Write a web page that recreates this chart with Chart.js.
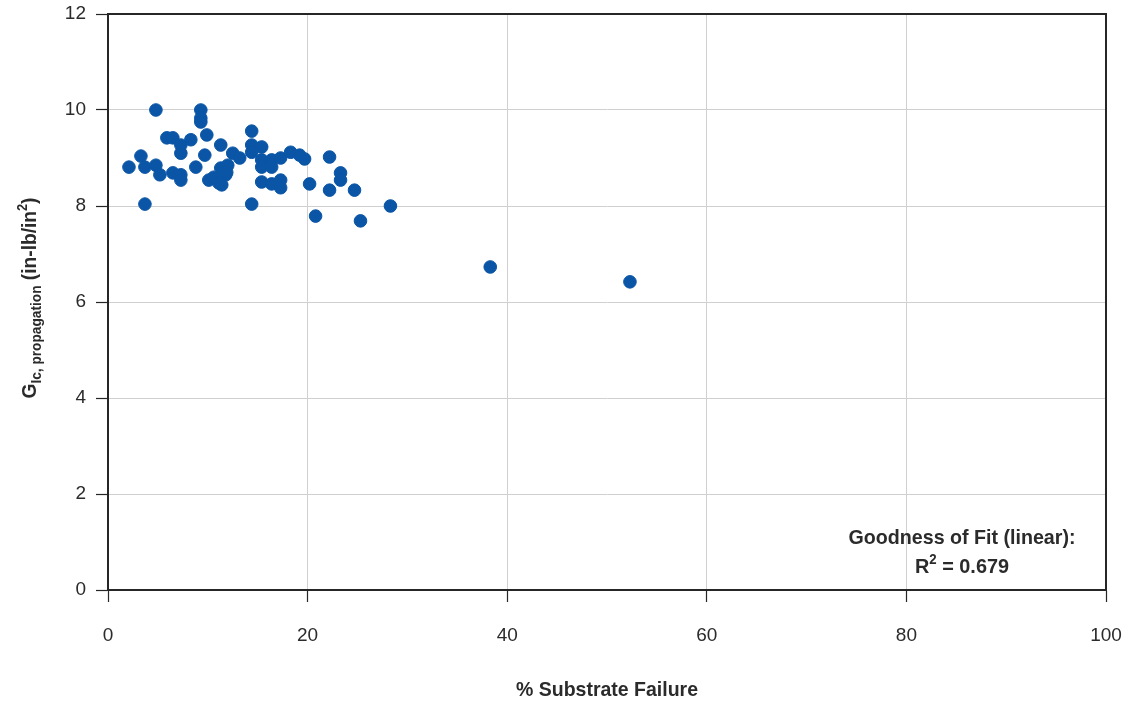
<!DOCTYPE html>
<html>
<head>
<meta charset="utf-8">
<script src="https://cdn.jsdelivr.net/npm/chart.js@4.4.1/dist/chart.umd.min.js"></script>
<style>
  html, body { margin: 0; padding: 0; background: #fff; }
  #wrap { width: 1130px; height: 702px; position: relative; }
</style>
</head>
<body>
<div id="wrap"><canvas id="chart"></canvas></div>
<script>
// % substrate failure vs GIc propagation (in-lb/in^2)
const substrateFailure = [
  2.1, 3.3, 3.7, 3.7, 4.8, 4.8, 5.2, 5.9, 6.5, 6.5,
  7.3, 7.3, 7.3, 7.3, 8.3, 8.8, 9.3, 9.3, 9.3, 9.7,
  9.9, 10.1, 10.6, 11.1, 11.3, 11.3, 11.8, 12.0, 12.5, 13.2,
  14.4, 14.4, 14.4, 14.4, 15.4, 15.4, 15.4, 15.4, 16.4, 16.4,
  16.4, 17.3, 17.3, 17.3, 18.3, 19.2, 19.7, 20.2, 20.8, 22.2,
  22.2, 23.3, 23.3, 24.7, 25.3, 28.3, 38.3, 52.3, 11.4, 11.9
];
const gicPropagation = [
  8.81, 9.04, 8.81, 8.04, 10.0, 8.85, 8.65, 9.42, 9.42, 8.69,
  9.27, 9.10, 8.65, 8.54, 9.38, 8.81, 10.0, 9.83, 9.75, 9.06,
  9.48, 8.54, 8.60, 8.48, 9.27, 8.79, 8.65, 8.85, 9.10, 9.00,
  9.56, 9.27, 9.12, 8.04, 9.23, 8.96, 8.81, 8.50, 8.96, 8.81,
  8.46, 9.00, 8.54, 8.38, 9.12, 9.06, 8.98, 8.46, 7.79, 9.02,
  8.33, 8.69, 8.54, 8.33, 7.69, 8.00, 6.73, 6.42, 8.44, 8.70
];
const xTicks = [0, 20, 40, 60, 80, 100];
const yTicks = [0, 2, 4, 6, 8, 10, 12];
const fitLabel = "Goodness of Fit (linear):";
const rSquared = "0.679";

const points = substrateFailure.map((x, i) => ({ x, y: gicPropagation[i] }));

const FONT = "'Liberation Sans', Arial, sans-serif";
const INK = "#2b2b2b";
const FRAME = "#262626";

// draw a run of text pieces (with sub/superscripts), squeezed to a given width
function drawRun(ctx, parts, cx, baseY, width) {
  let total = 0;
  parts.forEach(p => { ctx.font = "bold " + p.size + "px " + FONT; p.w = ctx.measureText(p.t).width; total += p.w; });
  const k = width / total;
  ctx.save();
  ctx.translate(cx, baseY);
  ctx.scale(k, 1);
  ctx.textAlign = "left";
  let x = -total / 2;
  parts.forEach(p => {
    ctx.font = "bold " + p.size + "px " + FONT;
    ctx.fillText(p.t, x, p.dy || 0);
    x += p.w;
  });
  ctx.restore();
}

// frame, axis titles and fit note
const extras = {
  id: "extras",
  afterDraw(chart) {
    const { ctx, chartArea: a } = chart;
    ctx.save();
    ctx.strokeStyle = FRAME;
    ctx.lineWidth = 2;
    ctx.strokeRect(a.left, a.top, a.right - a.left, a.bottom - a.top);

    ctx.fillStyle = INK;
    ctx.textBaseline = "alphabetic";

    // x title
    drawRun(ctx, [{ t: "% Substrate Failure", size: 21 }], (a.left + a.right) / 2, 696, 182);

    // y title, rotated
    ctx.save();
    ctx.translate(36, 298);
    ctx.rotate(-Math.PI / 2);
    drawRun(ctx, [
      { t: "G", size: 21 },
      { t: "Ic, propagation", size: 15, dy: 5 },
      { t: " (in-lb/in", size: 21 },
      { t: "2", size: 14, dy: -9 },
      { t: ")", size: 21 }
    ], 0, 0, 201);
    ctx.restore();

    // fit note
    drawRun(ctx, [{ t: fitLabel, size: 21 }], 962, 544, 227);
    drawRun(ctx, [
      { t: "R", size: 21 },
      { t: "2", size: 14, dy: -9 },
      { t: " = " + rSquared, size: 21 }
    ], 962, 573, 94);
    ctx.restore();
  }
};

new Chart(document.getElementById("chart"), {
  type: "scatter",
  data: {
    datasets: [{
      data: points,
      backgroundColor: "#0a55a6",
      borderColor: "#0a55a6",
      pointRadius: 6.3,
      pointHoverRadius: 6.3
    }]
  },
  options: {
    responsive: true,
    maintainAspectRatio: false,
    animation: false,
    layout: { padding: { left: 0, right: 24, top: 14, bottom: 0 } },
    plugins: { legend: { display: false }, tooltip: { enabled: false } },
    scales: {
      x: {
        type: "linear",
        min: 0, max: 100,
        afterBuildTicks: s => { s.ticks = xTicks.map(v => ({ value: v })); },
        afterFit: s => { s.height = 112; s.paddingLeft = 0; s.paddingRight = 0; },
        grid: { color: "#d0d0d0", lineWidth: 1, tickColor: FRAME, tickLength: 12, tickWidth: 1.2 },
        border: { display: true, color: FRAME, width: 2 },
        ticks: { color: INK, font: { family: FONT, size: 19 }, padding: 22, maxRotation: 0 }
      },
      y: {
        type: "linear",
        min: 0, max: 12,
        afterBuildTicks: s => { s.ticks = yTicks.map(v => ({ value: v })); },
        afterFit: s => { s.width = 108; s.paddingTop = 0; s.paddingBottom = 0; },
        grid: { color: "#d0d0d0", lineWidth: 1, tickColor: FRAME, tickLength: 12, tickWidth: 1.2 },
        border: { display: true, color: FRAME, width: 2 },
        ticks: { color: INK, font: { family: FONT, size: 19 }, padding: 10 }
      }
    }
  },
  plugins: [extras]
});
</script>
</body>
</html>
